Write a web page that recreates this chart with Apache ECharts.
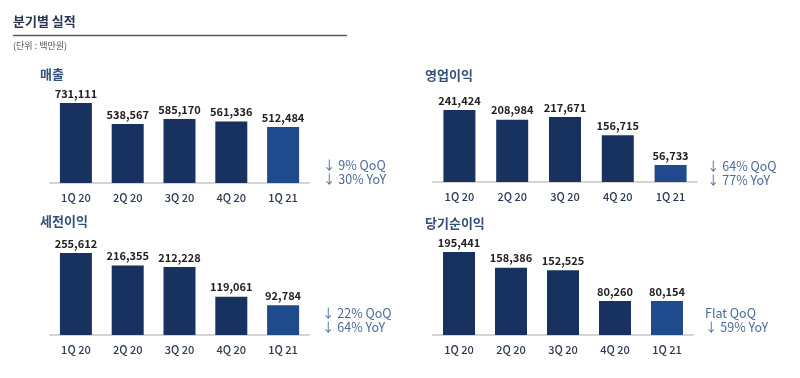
<!DOCTYPE html>
<html>
<head>
<meta charset="utf-8">
<script src="https://cdn.jsdelivr.net/npm/echarts@6/dist/echarts.min.js"></script>
<style>
  html, body { margin: 0; padding: 0; background: #fff; }
  #chart { width: 800px; height: 378px; }
</style>
</head>
<body>
<div id="chart"></div>
<script>
const quarters = ['1Q 20', '2Q 20', '3Q 20', '4Q 20', '1Q 21'];
const revenue = [731111, 538567, 585170, 561336, 512484];
const operatingProfit = [241424, 208984, 217671, 156715, 56733];
const preTaxProfit = [255612, 216355, 212228, 119061, 92784];
const netProfit = [195441, 158386, 152525, 80260, 80154];

const panelNames = ['매출', '영업이익', '세전이익', '당기순이익'];
const qoqTexts = ['↓ 9% QoQ', '↓ 64% QoQ', '↓ 22% QoQ', 'Flat QoQ'];
const yoyTexts = ['↓ 30% YoY', '↓ 77% YoY', '↓ 64% YoY', '↓ 59% YoY'];

const FONT = "'Noto Sans CJK KR', 'Noto Sans', sans-serif";
const DARK = '#17325f';
const LIGHT = '#1f4a8e';

const panels = [
  { data: revenue, grid: { left: 50, width: 259, top: 103, height: 80 }, name: [40, 74], note: [323, 165] },
  { data: operatingProfit, grid: { left: 433, width: 264, top: 110, height: 72 }, name: [425, 75], note: [707, 166] },
  { data: preTaxProfit, grid: { left: 50, width: 259, top: 253, height: 82 }, name: [40, 221], note: [322, 313] },
  { data: netProfit, grid: { left: 433, width: 260, top: 252, height: 83 }, name: [425, 223], note: [705, 313] }
];

const chart = echarts.init(document.getElementById('chart'));

const graphic = [
  { type: 'text', left: 13, top: 15, style: { text: '분기별 실적', font: 'bold 13px ' + FONT, fill: '#2a3550' } },
  { type: 'line', shape: { x1: 13, y1: 35.5, x2: 347, y2: 35.5 }, style: { stroke: '#4d5870', lineWidth: 1.5 } },
  { type: 'text', left: 13, top: 41, style: { text: '(단위 : 백만원)', font: '9px ' + FONT, fill: '#555' } }
];

panels.forEach((p, i) => {
  graphic.push({
    type: 'text', x: p.name[0], y: p.name[1],
    style: { text: panelNames[i], font: 'bold 13px ' + FONT, fill: '#34507a', verticalAlign: 'middle' }
  });
  graphic.push({
    type: 'text', x: p.note[0], y: p.note[1],
    style: { text: qoqTexts[i], font: '12.5px ' + FONT, fill: '#4c6b98', verticalAlign: 'middle' }
  });
  graphic.push({
    type: 'text', x: p.note[0], y: p.note[1] + 14,
    style: { text: yoyTexts[i], font: '12.5px ' + FONT, fill: '#4c6b98', verticalAlign: 'middle' }
  });
});

const option = {
  animation: false,
  textStyle: { fontFamily: FONT },
  graphic: graphic,
  grid: panels.map(p => p.grid),
  xAxis: panels.map((p, i) => ({
    type: 'category',
    gridIndex: i,
    data: quarters,
    axisLine: { lineStyle: { color: '#d4d4d4', width: 2 } },
    axisTick: { show: false },
    axisLabel: { color: '#2b3a55', fontSize: 11, fontWeight: 500, margin: 9 }
  })),
  yAxis: panels.map((p, i) => ({
    type: 'value',
    gridIndex: i,
    min: 0,
    max: 'dataMax',
    show: false,
    splitLine: { show: false }
  })),
  series: panels.map((p, i) => ({
    type: 'bar',
    xAxisIndex: i,
    yAxisIndex: i,
    data: p.data,
    barWidth: 32,
    itemStyle: {
      color: params => params.dataIndex === quarters.length - 1 ? LIGHT : DARK
    },
    label: {
      show: true,
      position: 'top',
      distance: 4,
      color: '#222',
      fontSize: 11,
      fontWeight: 600,
      formatter: params => params.value.toLocaleString('en-US')
    }
  }))
};

chart.setOption(option);
</script>
</body>
</html>
